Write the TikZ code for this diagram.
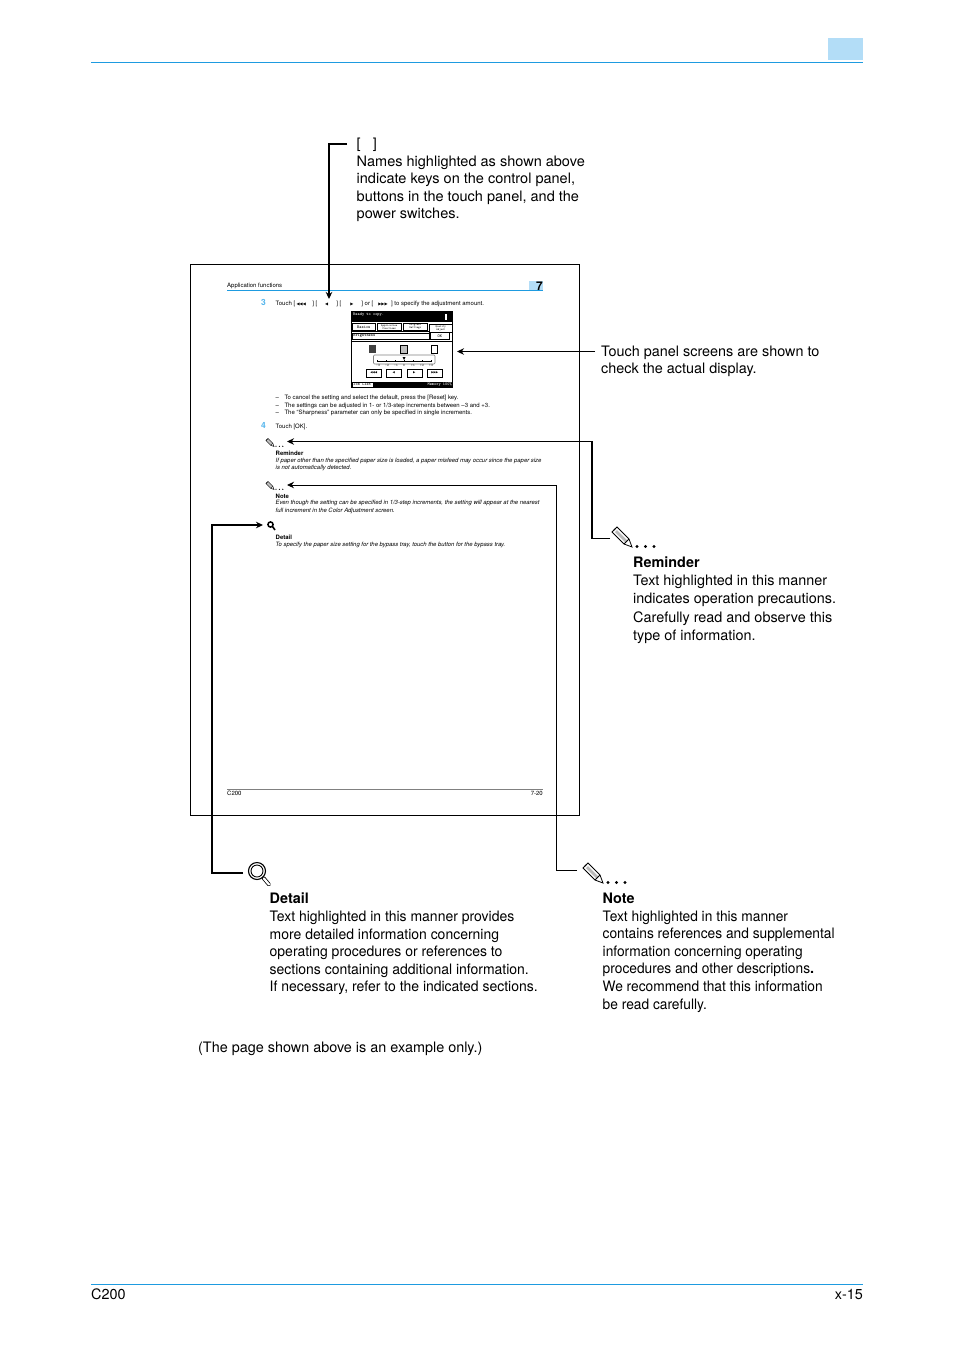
\documentclass[tikz,border=0pt]{standalone}
\usepackage{fontspec}
\setmainfont{TeX Gyre Heros}
\newfontfamily\symfont{DejaVu Sans}
\newfontfamily\detfam[FakeStretch=.97,BoldFeatures={FakeStretch=1}]{TeX Gyre Heros}
\newfontfamily\notefam[FakeStretch=.955,BoldFeatures={FakeStretch=1}]{TeX Gyre Heros}
\newfontfamily\keyfam[FakeStretch=1.008]{TeX Gyre Heros}
\usetikzlibrary{arrows.meta}
\definecolor{rulecyan}{HTML}{1E9BE0}
\definecolor{tabblue}{HTML}{B3DDF7}
\definecolor{stepblue}{HTML}{55B5EC}
\newcommand{\bodyfont}{\fontsize{14.4}{17.55}\selectfont}
\newcommand{\tinyfont}{\fontsize{6}{7.3}\selectfont}
\newcommand{\tinyital}{\fontsize{5.92}{7.3}\selectfont\itshape}
\newcommand{\scrfont}{\ttfamily\bfseries\fontsize{4.2}{4.5}\selectfont}
\newcommand{\arw}[1]{{\symfont\fontsize{4}{4}\selectfont #1}}
\tikzset{
  x=1pt,y=-1pt,
  bodytext/.style={anchor=north west,inner sep=0pt,align=left,font=\bodyfont},
  tinytext/.style={anchor=west,inner sep=0pt,align=left,font=\tinyfont,yshift=-.8pt},
  scrtext/.style={inner sep=0pt,font=\scrfont},
  scrbtn/.style={draw=black,line width=.6pt,fill=white,inner sep=0pt,anchor=north west,font=\scrfont},
  arrowbtn/.style={scrbtn,minimum width=15pt,minimum height=7.5pt,font=\symfont\fontsize{3}{3}\selectfont},
  minitab/.style={scrbtn,minimum height=7pt,font=\ttfamily\bfseries\fontsize{2.8}{2.8}\selectfont,align=center},
  conn/.style={line width=1.25pt,-{Stealth[length=7pt,width=6.5pt]}},
  connthin/.style={line width=.9pt,-{Stealth[length=7pt,width=6.5pt]}},
  pics/pencilmark/.style={code={
    \draw[line width=#1,fill=white] (0,5) -- (5,0) -- (17,12) -- (20,20) -- (12,17) -- cycle;
    \fill[gray!55] (3,5) -- (5,3) -- (15.5,13.5) -- (13.5,15.5) -- cycle;
    \draw[line width=#1] (1.5,3.5) -- (3.5,1.5) (12,17) -- (17,12);
    \fill (25,19.5) circle (1.6) (33.5,19.5) circle (1.6) (42,19.5) circle (1.6);
  }},
}
\begin{document}
\begin{tikzpicture}
\useasboundingbox (0,0) rectangle (954,1350);
% page furniture
\fill[tabblue] (828,38) rectangle (863,60);
\draw[rulecyan,line width=1pt] (91,62.5) -- (863,62.5);
\draw[rulecyan,line width=1pt] (91,1284.5) -- (863,1284.5);
\node[anchor=west,inner sep=0pt,font=\bodyfont] (footl) at (91,1294.5) {C200};
\node[anchor=east,inner sep=0pt,font=\bodyfont] (footr) at (863,1294.5) {x-15};
% sample page
\draw[line width=.9pt] (190.5,264.5) rectangle (579.5,815.5);
\fill[tabblue] (529,281) rectangle (543,290);
\draw[rulecyan,line width=1pt] (227,290.5) -- (543,290.5);
\node[tinytext] (apf) at (227,285) {Application functions};
\node[anchor=center,inner sep=0pt,font=\fontsize{12}{12}\selectfont\bfseries] (chap) at (539.5,286.5) {7};
\node[anchor=center,inner sep=0pt,text=stepblue,font=\fontsize{8.5}{8.5}\selectfont\bfseries] (s3) at (263.5,302.5) {3};
\node[tinytext] (t3) at (275.5,303.3) {Touch [\hspace{1.5pt}\arw{◀◀◀}\hspace{6.5pt}] [\hspace{7.8pt}\arw{◀}\hspace{8pt}] [\hspace{9pt}\arw{▶}\hspace{8pt}] or [\hspace{5pt}\arw{▶▶▶}\hspace{3.5pt}] to specify the adjustment amount.};
% screen
\draw[line width=.6pt,fill=white] (351,311) rectangle (452,387);
\fill (351,311) rectangle (452,322);
\node[scrtext,text=white,anchor=west] (rdy) at (353,314.5) {Ready to copy.};
\fill[white] (445,314) rectangle (446.5,320);
\node[scrbtn,minimum width=23pt,minimum height=7pt] (tab1) at (352,323) {Basics};
\node[minitab,minimum width=24pt] (tab2) at (377,323) {Application\\Functions};
\node[minitab,minimum width=24pt] (tab3) at (403,323) {Original\\Settings};
\node[minitab,minimum width=23pt,minimum height=8pt] (tab4) at (429,324) {Quality\\Adjust};
\draw[line width=.6pt] (351,331) -- (429,331);
\node[scrbtn,minimum width=77pt,minimum height=6pt,text width=75pt] (brt) at (352,332.5) {Brightness};
\node[scrbtn,line width=.9pt,minimum width=19pt,minimum height=7pt] (okb) at (430,332) {OK};
\draw[line width=.6pt] (351,341) -- (452,341);
\fill[black!75] (369,345) rectangle (376,353);
\draw[line width=.6pt,fill=black!25] (400,345) rectangle (407,353);
\draw[line width=.6pt] (431,345) rectangle (437.5,353);
\draw[line width=.6pt,gray,rounded corners=1pt] (373.5,355) rectangle (435,364);
\draw[line width=.6pt] (377,361) -- (431,361);
\foreach \tx in {377,386,395,404,413,422,431} \fill (\tx,360) rectangle +(.7,2);
\fill (402.5,357) -- (405.5,357) -- (404,360) -- cycle;
\foreach \tx/\tl in {378/-3,387/-2,396/-1,404/0,413/+1,422/+2,431/+3}
  \node[scrtext,font=\ttfamily\fontsize{3.4}{3.4}\selectfont] at (\tx,365.8) {\tl};
\node[arrowbtn] (b1) at (366,369) {◀◀◀};
\node[arrowbtn] (b2) at (386,369) {◀};
\node[arrowbtn] (b3) at (406.5,369) {▶};
\node[arrowbtn] (b4) at (427,369) {▶▶▶};
\fill (351,381.5) rectangle (452,387);
\node[scrbtn,minimum width=21pt,minimum height=5pt] (job) at (351.5,381.7) {Job List};
\node[scrtext,text=white,anchor=east] (mem) at (452,384.3) {Memory 100\%};
% sample-page text
\node[tinytext] (d1) at (275.5,397.3) {–\hspace{5.5pt}To cancel the setting and select the default, press the [Reset] key.};
\node[tinytext] (d2) at (275.5,404.7) {–\hspace{5.5pt}The settings can be adjusted in 1- or 1/3-step increments between –3 and +3.};
\node[tinytext] (d3) at (275.5,412.3) {–\hspace{5.5pt}The “Sharpness” parameter can only be specified in single increments.};
\node[anchor=center,inner sep=0pt,text=stepblue,font=\fontsize{8.5}{8.5}\selectfont\bfseries] (s4) at (263.5,425.5) {4};
\node[tinytext] (t4) at (275.5,426.3) {Touch [OK].};
\pic[scale=.4] at (266,438.5) {pencilmark=.5pt};
\coordinate (remTarget) at (287,441.5);
\node[tinytext] (remh) at (275.5,452.7) {\bfseries Reminder};
\node[tinytext,font=\tinyital] (remb) at (275.5,463.6) {If paper other than the specified paper size is loaded, a paper misfeed may occur since the paper size\\is not automatically detected.};
\pic[scale=.4] at (266,481.5) {pencilmark=.5pt};
\coordinate (noteTarget) at (287,485);
\node[tinytext] (noteh) at (275.5,495.3) {\bfseries Note};
\node[tinytext,font=\tinyital] (noteb) at (275.5,506.3) {Even though the setting can be specified in 1/3-step increments, the setting will appear at the nearest\\full increment in the Color Adjustment screen.};
\draw[line width=1.5pt] (270.5,524.5) circle (2.6);
\draw[line width=1.6pt] (272.5,526.5) -- (275,530);
\coordinate (detTarget) at (263,525);
\node[tinytext] (deth) at (275.5,536.2) {\bfseries Detail};
\node[tinytext,font=\tinyital] (detb) at (275.5,544) {To specify the paper size setting for the bypass tray, touch the button for the bypass tray.};
\draw[gray,line width=.7pt] (227,789.5) -- (543,789.5);
\node[tinytext] (pfl) at (227,793) {C200};
\node[tinytext,anchor=east] (pfr) at (543,793) {7-20};
% callouts
\node[bodytext,font=\bodyfont\keyfam] (keys) at (356.5,138) {[ \ \ ]\\Names highlighted as shown above\\indicate keys on the control panel,\\buttons in the touch panel, and the\\power switches.};
\node[bodytext] (touch) at (601,345.5) {Touch panel screens are shown to\\check the actual display.};
\pic at (612,527) {pencilmark=.8pt};
\node[bodytext,font=\fontsize{14.4}{18.2}\selectfont] (rem) at (633,556.6) {\textbf{Reminder}\\Text highlighted in this manner\\indicates operation precautions.\\Carefully read and observe this\\type of information.};
\draw[line width=1.1pt,fill=white] (257,871) circle (8.5);
\draw[line width=.9pt] (257,871) circle (6);
\draw[line width=3.8pt,line cap=round] (263.5,878) -- (269,884.5);
\draw[white,line width=2.2pt,line cap=round] (263.8,878.4) -- (269,884.5);
\node[bodytext,font=\bodyfont\detfam] (det) at (269.5,893) {\textbf{Detail}\\Text highlighted in this manner provides\\more detailed information concerning\\operating procedures or references to\\sections containing additional information.\\If necessary, refer to the indicated sections.};
\pic at (583,863) {pencilmark=.8pt};
\node[bodytext,font=\bodyfont\notefam] (note) at (602.5,893) {\textbf{Note}\\Text highlighted in this manner\\contains references and supplemental\\information concerning operating\\procedures and other descriptions\textbf{.}\\We recommend that this information\\be read carefully.};
\node[bodytext] (example) at (198,1041.5) {(The page shown above is an example only.)};
% connectors
\coordinate (keysEnd) at (347,144);
\coordinate (keysTarget) at (329,299);
\draw[conn] (keysEnd) -- (keysTarget |- keysEnd) -- (keysTarget);
\coordinate (touchEnd) at (595,351.5);
\coordinate (touchTarget) at (457,351.5);
\draw[connthin] (touchEnd) -- (touchTarget);
\coordinate (remEnd) at (610,538.5);
\draw[connthin,line width=1.2pt] (remEnd) -- (592,538.5) -- (592,441.5) -- (remTarget);
\coordinate (noteEnd) at (577,870);
\draw[connthin] (noteEnd) -- (556,870) -- (556,485) -- (noteTarget);
\coordinate (detEnd) at (243,873);
\draw[conn,line width=1.5pt] (detEnd) -- (212,873) -- (212,525) -- (detTarget);
\end{tikzpicture}
\end{document}
